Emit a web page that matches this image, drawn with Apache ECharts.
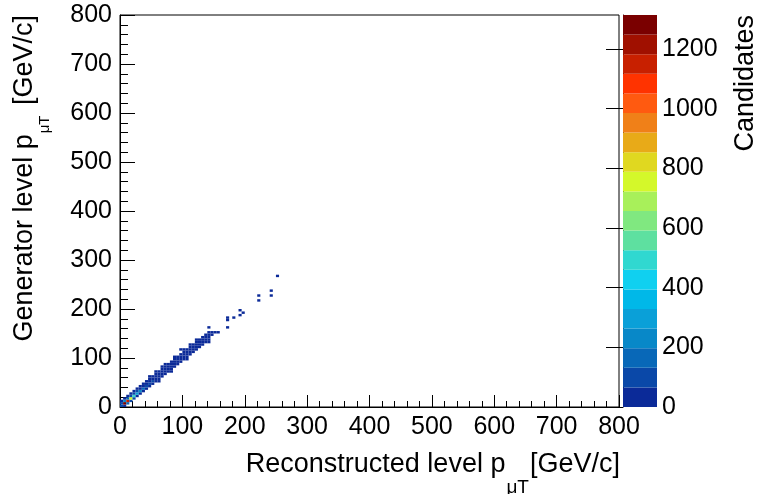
<!DOCTYPE html>
<html>
<head>
<meta charset="utf-8">
<script src="https://cdn.jsdelivr.net/npm/echarts@6/dist/echarts.min.js"></script>
<style>
  html, body { margin: 0; padding: 0; background: #fff; }
  #chart { width: 758px; height: 494px; }
</style>
</head>
<body>
<div id="chart"></div>
<script>
// Bin width in GeV/c (same on both axes)
const BIN = 5;

// Axis tick labels
const pTTicks = [0, 100, 200, 300, 400, 500, 600, 700, 800];
const zTicks = [0, 200, 400, 600, 800, 1000, 1200];

// Colour levels of the z scale, lowest first
const palette = [
  '#0b2a98', '#0a48a8', '#0868b8', '#0888c8', '#0aa0d8',
  '#00b8e8', '#10d0f0', '#30d8d0', '#5ee0a0', '#80e880',
  '#a8f05a', '#d4f82a', '#e0d820', '#e8aa18', '#f08018',
  '#ff5a10', '#ff3300', '#c82000', '#a01000', '#7a0000'
];

// Filled cells: [reconstructed pT bin low edge, generator pT bin low edge, candidates]
const cells = [
  [0, 0, 120], [0, 5, 90], [0, 10, 30],
  [5, 0, 40], [5, 5, 1314], [5, 10, 210], [5, 15, 20],
  [10, 5, 150], [10, 10, 1150], [10, 15, 160], [10, 20, 15],
  [15, 10, 90], [15, 15, 760], [15, 20, 120], [15, 25, 12],
  [20, 15, 70], [20, 20, 470], [20, 25, 100], [20, 30, 10],
  [25, 20, 55], [25, 25, 300], [25, 30, 80], [25, 35, 8],
  [30, 25, 45], [30, 30, 220], [30, 35, 62], [30, 40, 7],
  [35, 30, 38], [35, 35, 165], [35, 40, 50], [35, 45, 6],
  [40, 35, 30], [40, 40, 125], [40, 45, 40], [40, 50, 5],
  [45, 40, 24], [45, 45, 100], [45, 50, 32], [45, 55, 4], [45, 60, 1],
  [50, 45, 19], [50, 50, 82], [50, 55, 27], [50, 60, 4],
  [55, 50, 15], [55, 55, 65], [55, 60, 22], [55, 65, 3], [55, 70, 1],
  [60, 50, 1], [60, 55, 12], [60, 60, 55], [60, 65, 18], [60, 70, 3],
  [65, 60, 9], [65, 65, 46], [65, 70, 15], [65, 75, 2], [65, 80, 1],
  [70, 65, 7], [70, 70, 38], [70, 75, 12], [70, 80, 2], [70, 85, 1],
  [75, 70, 6], [75, 75, 31], [75, 80, 10], [75, 85, 2],
  [80, 70, 1], [80, 75, 5], [80, 80, 26], [80, 85, 8], [80, 90, 1],
  [85, 80, 4], [85, 85, 21], [85, 90, 7], [85, 95, 1], [85, 100, 1],
  [90, 85, 3], [90, 90, 17], [90, 95, 6], [90, 100, 1],
  [95, 90, 2], [95, 95, 14], [95, 100, 5], [95, 105, 1], [95, 115, 1],
  [100, 95, 2], [100, 100, 11], [100, 105, 4], [100, 110, 1], [100, 115, 1],
  [105, 95, 1], [105, 100, 1], [105, 105, 9], [105, 110, 3], [105, 115, 1],
  [110, 105, 1], [110, 110, 7], [110, 115, 3], [110, 120, 1], [110, 125, 1],
  [115, 110, 1], [115, 115, 6], [115, 120, 2], [115, 125, 1],
  [120, 115, 1], [120, 120, 5], [120, 125, 2], [120, 130, 1], [120, 135, 1],
  [125, 120, 1], [125, 125, 4], [125, 130, 2], [125, 135, 1],
  [130, 125, 1], [130, 130, 3], [130, 135, 2], [130, 140, 1],
  [135, 130, 1], [135, 135, 2], [135, 140, 1], [135, 145, 1],
  [140, 130, 1], [140, 135, 1], [140, 140, 2], [140, 145, 1], [140, 150, 1], [140, 160, 1],
  [145, 145, 1], [145, 150, 1],
  [150, 150, 1],
  [155, 150, 1],
  [170, 160, 1], [170, 175, 1], [170, 180, 1],
  [180, 180, 1],
  [190, 185, 1], [190, 195, 1],
  [195, 190, 1],
  [220, 215, 1], [220, 225, 1],
  [240, 225, 1], [240, 235, 1],
  [250, 265, 1]
];

const FONT = '"Liberation Sans", Arial, Helvetica, sans-serif';

// z range runs up to the fullest cell, split into equal colour levels
const zMax = Math.max(...cells.map(c => c[2]));
const step = zMax / palette.length;
const pieces = palette.map((color, i) =>
  i === palette.length - 1
    ? { gte: i * step, lte: zMax, color }
    : { gte: i * step, lt: (i + 1) * step, color });
const bands = palette.map((color, i) => [i * step, (i + 1) * step, i]);

const chart = echarts.init(document.getElementById('chart'), null, { renderer: 'canvas' });

const blackLine = { color: '#000', width: 1 };
const plainNumber = v => String(v);

chart.setOption({
  animation: false,
  backgroundColor: '#fff',
  grid: [
    { left: 120, top: 15, width: 499, height: 392, show: true,
      borderColor: '#000', borderWidth: 1, backgroundColor: '#fff' },
    { left: 623, top: 15, width: 34, height: 392 }
  ],
  visualMap: {
    type: 'piecewise',
    show: false,
    seriesIndex: 0,
    dimension: 2,
    pieces: pieces
  },
  xAxis: [
    {
      gridIndex: 0, type: 'value', min: pTTicks[0], max: pTTicks[pTTicks.length - 1],
      interval: pTTicks[1] - pTTicks[0],
      axisLine: { show: true, onZero: false, lineStyle: blackLine },
      axisTick: { show: true, inside: true, length: 12, lineStyle: blackLine },
      minorTick: { show: true, splitNumber: 5, length: 6, lineStyle: blackLine },
      splitLine: { show: false },
      axisLabel: { color: '#000', fontSize: 25, fontFamily: FONT, margin: 8, formatter: plainNumber }
    },
    { gridIndex: 1, type: 'value', min: 0, max: 1, show: false }
  ],
  yAxis: [
    {
      gridIndex: 0, type: 'value', min: pTTicks[0], max: pTTicks[pTTicks.length - 1],
      interval: pTTicks[1] - pTTicks[0],
      axisLine: { show: true, onZero: false, lineStyle: blackLine },
      axisTick: { show: true, inside: true, length: 15, lineStyle: blackLine },
      minorTick: { show: true, splitNumber: 5, length: 8, lineStyle: blackLine },
      splitLine: { show: false },
      axisLabel: { color: '#000', fontSize: 25, fontFamily: FONT, margin: 8, formatter: plainNumber }
    },
    {
      gridIndex: 1, type: 'value', position: 'right', min: 0, max: zMax,
      axisLine: { show: true, lineStyle: blackLine },
      axisTick: { show: true, inside: true, length: 17, lineStyle: blackLine, customValues: zTicks },
      splitLine: { show: false },
      axisLabel: { color: '#000', fontSize: 25, fontFamily: FONT, margin: 5,
                   customValues: zTicks, formatter: plainNumber }
    }
  ],
  series: [
    {
      type: 'custom',
      xAxisIndex: 0,
      yAxisIndex: 0,
      clip: true,
      silent: true,
      data: cells,
      encode: { x: 0, y: 1 },
      renderItem: function (params, api) {
        const x = api.value(0), y = api.value(1);
        const p0 = api.coord([x, y]);
        const p1 = api.coord([x + BIN, y + BIN]);
        return {
          type: 'rect',
          shape: { x: p0[0], y: p1[1], width: p1[0] - p0[0], height: p0[1] - p1[1] },
          style: { fill: api.visual('color') }
        };
      }
    },
    {
      type: 'custom',
      xAxisIndex: 1,
      yAxisIndex: 1,
      silent: true,
      data: bands,
      encode: { y: [0, 1] },
      renderItem: function (params, api) {
        const p0 = api.coord([0, api.value(0)]);
        const p1 = api.coord([1, api.value(1)]);
        return {
          type: 'rect',
          shape: { x: p0[0], y: p1[1], width: p1[0] - p0[0], height: p0[1] - p1[1] },
          style: { fill: palette[api.value(2)] }
        };
      }
    }
  ],
  graphic: [
    {
      type: 'text', x: 620, y: 451,
      style: {
        text: '{m|Reconstructed level p}{s|μT}{m|[GeV/c]}',
        align: 'right', verticalAlign: 'top',
        rich: {
          m: { fontSize: 27, fontFamily: FONT, fill: '#000', verticalAlign: 'top' },
          s: { fontSize: 19, fontFamily: FONT, fill: '#000', verticalAlign: 'top', padding: [27, 1, 0, 1] }
        }
      }
    },
    {
      type: 'text', x: 11, y: 15, rotation: Math.PI / 2,
      style: {
        text: '{m|Generator level p}{s|μT}{m| [GeV/c]}',
        align: 'right', verticalAlign: 'top',
        rich: {
          m: { fontSize: 27, fontFamily: FONT, fill: '#000', verticalAlign: 'top' },
          s: { fontSize: 15, fontFamily: FONT, fill: '#000', verticalAlign: 'top', padding: [26, 3, 0, 1] }
        }
      }
    },
    {
      type: 'text', x: 732, y: 15, rotation: Math.PI / 2,
      style: {
        text: 'Candidates', align: 'right', verticalAlign: 'top',
        fontSize: 27, fontFamily: FONT, fill: '#000'
      }
    }
  ]
});
</script>
</body>
</html>
